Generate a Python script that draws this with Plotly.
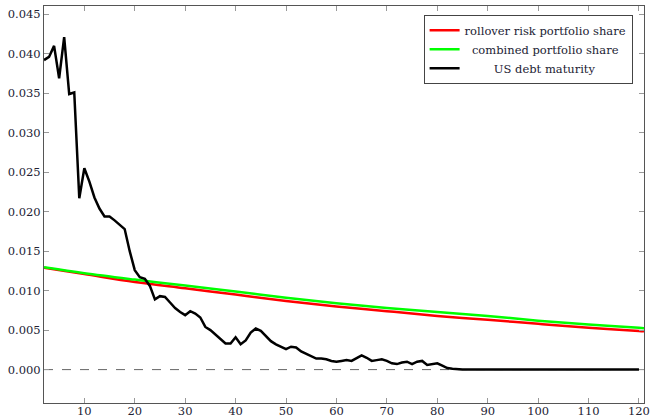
import plotly.graph_objects as go

# ---- data ----
maturity_years = list(range(2, 121))
us_debt_maturity = [
    0.0392, 0.0396, 0.0410, 0.0369, 0.0421, 0.0349, 0.0351, 0.0217, 0.0255,   # 2-10
    0.0238, 0.0218, 0.0204, 0.0194, 0.0194, 0.0189, 0.0184, 0.0178, 0.0150, 0.0126,  # 11-20
    0.0117, 0.0115, 0.0106, 0.0089, 0.0093, 0.0092, 0.0085, 0.0078, 0.0073, 0.0069,  # 21-30
    0.0074, 0.0071, 0.0066, 0.0054, 0.0050, 0.0044, 0.0038, 0.0033, 0.0033, 0.0041,  # 31-40
    0.0032, 0.0037, 0.0047, 0.0052, 0.0049, 0.0043, 0.0036, 0.0032, 0.0029, 0.0026,  # 41-50
    0.0029, 0.0028, 0.0023, 0.0020, 0.0017, 0.0014, 0.0014, 0.0013, 0.0011, 0.0010,  # 51-60
    0.0011, 0.0012, 0.0011, 0.0014, 0.0018, 0.0015, 0.0011, 0.0012, 0.0013, 0.0011,  # 61-70
    0.0008, 0.0007, 0.0009, 0.0010, 0.0007, 0.0010, 0.0011, 0.0006, 0.0007, 0.0008,  # 71-80
    0.0005, 0.0002, 0.0001, 0.00003, 0.0, 0.0, 0.0, 0.0, 0.0, 0.0,                  # 81-90
    0.0, 0.0, 0.0, 0.0, 0.0, 0.0, 0.0, 0.0, 0.0, 0.0,                               # 91-100
    0.0, 0.0, 0.0, 0.0, 0.0, 0.0, 0.0, 0.0, 0.0, 0.0,                               # 101-110
    0.0, 0.0, 0.0, 0.0, 0.0, 0.0, 0.0, 0.0, 0.0, 0.0,                               # 111-120
]

share_x = [2, 10, 20, 30, 40, 50, 60, 70, 80, 90, 100, 110, 120, 121]
rollover_share = [0.0129, 0.0121, 0.0111, 0.0103, 0.0095, 0.0087, 0.0080,
                  0.0074, 0.0068, 0.0063, 0.0058, 0.0053, 0.0049, 0.00485]
combined_share = [0.01295, 0.0122, 0.0114, 0.01065, 0.0099, 0.0091, 0.0084,
                  0.0078, 0.0073, 0.0068, 0.0062, 0.0057, 0.0053, 0.00525]

x_ticks = [10, 20, 30, 40, 50, 60, 70, 80, 90, 100, 110, 120]
y_ticks = [0.000, 0.005, 0.010, 0.015, 0.020, 0.025, 0.030, 0.035, 0.040, 0.045]

NB = "\u00a0"
FONT = "DejaVu Serif, serif"

fig = go.Figure()
fig.add_trace(go.Scatter(x=share_x, y=rollover_share, mode="lines",
                         line=dict(color="#ff0000", width=2.5, shape="spline"),
                         name="rollover risk portfolio share"))
fig.add_trace(go.Scatter(x=share_x, y=combined_share, mode="lines",
                         line=dict(color="#00ff00", width=2.5, shape="spline"),
                         name=NB * 2 + "combined portfolio share"))
fig.add_trace(go.Scatter(x=maturity_years, y=us_debt_maturity, mode="lines",
                         line=dict(color="#000000", width=2.5),
                         name=NB * 8 + "US debt maturity"))

fig.add_hline(y=0, line=dict(color="#666666", width=1, dash="dash"), layer="below")

axis_common = dict(showline=True, linecolor="#555555", linewidth=1, mirror="allticks",
                   ticks="inside", ticklen=5, tickcolor="#999999", tickwidth=1,
                   showgrid=False, zeroline=False, automargin=False)

fig.update_xaxes(range=[2, 121], tickvals=x_ticks, ticklabelstandoff=-3,
                 tickfont=dict(family=FONT, size=11.5, color="#222233"), **axis_common)
fig.update_yaxes(range=[-0.00423, 0.04605], tickvals=y_ticks, tickformat=".3f",
                 tickfont=dict(family=FONT, size=11.5, color="#222233"), **axis_common)

fig.update_layout(
    width=651, height=418,
    margin=dict(l=44, r=7, t=6, b=15, autoexpand=False),
    paper_bgcolor="white", plot_bgcolor="white",
    font=dict(family=FONT, size=11.5, color="#222233"),
    legend=dict(x=0.981, y=0.978, xanchor="right", yanchor="top",
                bgcolor="white", bordercolor="#444444", borderwidth=1,
                font=dict(family=FONT, size=11.5, color="#222233"),
                tracegroupgap=0, itemwidth=30),
    showlegend=True,
)

fig.write_html("out.html")
